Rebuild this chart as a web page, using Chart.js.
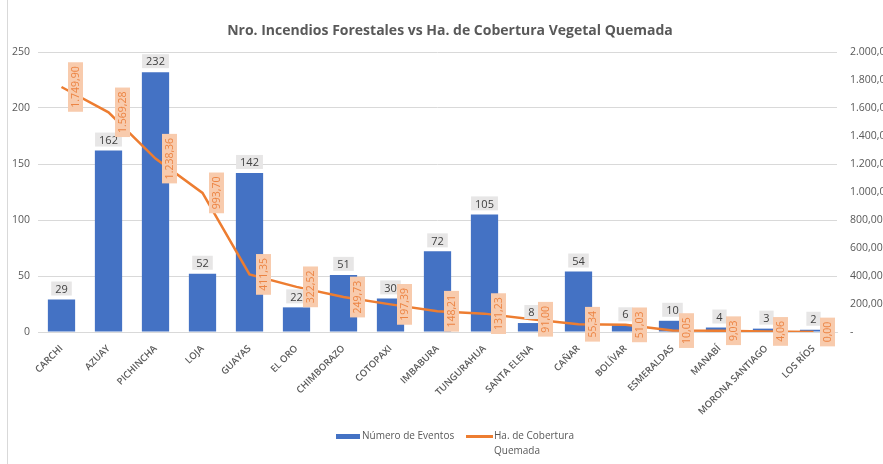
<!DOCTYPE html>
<html>
<head>
<meta charset="utf-8">
<script src="https://cdn.jsdelivr.net/npm/chart.js@4.4.1/dist/chart.umd.min.js"></script>
<style>
  html, body { margin: 0; padding: 0; background: #fff; overflow: hidden; }
  #wrap { position: relative; width: 883px; height: 464px; font-family: "Open Sans", "Noto Sans", sans-serif; }
  #edge { position: absolute; left: 7px; top: 0; width: 1px; height: 464px; background: #d9d9d9; }
  #title { position: absolute; left: 0; top: 20px; width: 900px; text-align: center;
           font-size: 14px; font-weight: bold; color: #595959; }
  #legend { position: absolute; top: 428px; left: 336px; font-size: 10px; color: #595959; }
  .item { position: absolute; white-space: nowrap; line-height: 15px; }
  .swatch { position: absolute; }
</style>
</head>
<body>
<div id="wrap">
  <div id="edge"></div>
  <div id="title">Nro. Incendios Forestales vs Ha. de Cobertura Vegetal Quemada</div>
  <canvas id="chart" width="883" height="464"></canvas>
  <div id="legend"></div>
</div>
<script>
// provincias
var provincias = ['CARCHI', 'AZUAY', 'PICHINCHA', 'LOJA', 'GUAYAS', 'EL ORO', 'CHIMBORAZO', 'COTOPAXI',
    'IMBABURA', 'TUNGURAHUA', 'SANTA ELENA', 'CAÑAR', 'BOLÍVAR', 'ESMERALDAS', 'MANABÍ',
    'MORONA SANTIAGO', 'LOS RÍOS'];
// número de eventos (eje izquierdo)
var eventos = [29, 162, 232, 52, 142, 22, 51, 30, 72, 105, 8, 54, 6, 10, 4, 3, 2];
// hectáreas quemadas (eje derecho)
var hectareas = [1749.90, 1569.28, 1238.36, 993.70, 411.35, 322.52, 249.73, 197.39, 148.21,
    131.23, 91.00, 55.34, 51.03, 10.05, 9.03, 4.06, 0.00];
var nombreEventos = 'Número de Eventos';
var nombreHectareas = ['Ha. de Cobertura', 'Quemada'];

var AZUL = '#4472c4';
var NARANJA = '#ed7d31';
var FUENTE = '"Open Sans", "Noto Sans", sans-serif';

// formato 1.749,90
function formatoEs(v) {
    var partes = v.toFixed(2).split('.');
    partes[0] = partes[0].replace(/\B(?=(\d{3})+(?!\d))/g, '.');
    return partes[0] + ',' + partes[1];
}

// etiquetas de datos (barras arriba, línea girada a la derecha)
var etiquetasPlugin = {
    id: 'etiquetas',
    afterDatasetsDraw: function (chart) {
        var ctx = chart.ctx;
        ctx.save();
        ctx.textAlign = 'center';
        ctx.textBaseline = 'middle';

        ctx.font = '11px ' + FUENTE;
        chart.getDatasetMeta(0).data.forEach(function (bar, i) {
            var txt = String(eventos[i]);
            var w = ctx.measureText(txt).width + 8;
            var cy = bar.y - 11;
            ctx.fillStyle = '#e7e6e6';
            ctx.fillRect(bar.x - w / 2, cy - 7, w, 14);
            ctx.fillStyle = '#404040';
            ctx.fillText(txt, bar.x, cy + 1);
        });

        ctx.font = '10.5px ' + FUENTE;
        chart.getDatasetMeta(1).data.forEach(function (pt, i) {
            var txt = formatoEs(hectareas[i]);
            var w = ctx.measureText(txt).width + 8;
            ctx.save();
            ctx.translate(pt.x + 14, pt.y);
            ctx.rotate(-Math.PI / 2);
            ctx.fillStyle = '#f8cbad';
            ctx.fillRect(-w / 2, -7.5, w, 15);
            ctx.fillStyle = '#ec8443';
            ctx.fillText(txt, 0, 1);
            ctx.restore();
        });
        ctx.restore();
    }
};

var ctx = document.getElementById('chart').getContext('2d');
window.miGrafico = new Chart(ctx, {
    type: 'bar',
    data: {
        labels: provincias,
        datasets: [{
            label: nombreEventos,
            data: eventos,
            backgroundColor: AZUL,
            yAxisID: 'y',
            categoryPercentage: 1,
            barPercentage: 0.58,
            order: 2
        }, {
            type: 'line',
            label: nombreHectareas.join(' '),
            data: hectareas,
            borderColor: NARANJA,
            backgroundColor: NARANJA,
            borderWidth: 2.5,
            pointRadius: 0,
            tension: 0,
            yAxisID: 'y1',
            order: 1
        }]
    },
    options: {
        responsive: false,
        animation: false,
        layout: { padding: { top: 52, bottom: 32, left: 0, right: 0 } },
        plugins: {
            legend: { display: false },
            title: { display: false },
            tooltip: { enabled: false }
        },
        scales: {
            x: {
                grid: { display: false },
                border: { color: '#d9d9d9' },
                ticks: {
                    color: '#595959',
                    font: { family: FUENTE, size: 9.5, weight: '600' },
                    minRotation: 45,
                    maxRotation: 45,
                    autoSkip: false,
                    padding: 3
                },
                afterFit: function (s) { s.height = 100; }
            },
            y: {
                position: 'left',
                min: 0,
                max: 250,
                ticks: {
                    stepSize: 50,
                    color: '#595959',
                    font: { family: FUENTE, size: 10.5 },
                    padding: 8
                },
                grid: { color: '#d9d9d9', drawTicks: false },
                border: { display: false },
                afterFit: function (s) { s.width = 38; }
            },
            y1: {
                position: 'right',
                min: 0,
                max: 2000,
                ticks: {
                    stepSize: 200,
                    color: '#595959',
                    font: { family: FUENTE, size: 10.5 },
                    padding: 13,
                    callback: function (v) { return v === 0 ? '-' : formatoEs(v); }
                },
                grid: { drawOnChartArea: false, drawTicks: false },
                border: { display: false },
                afterFit: function (s) { s.width = 46; }
            }
        }
    },
    plugins: [etiquetasPlugin]
});

// leyenda HTML (el texto de la línea va en dos renglones)
var leyenda = document.getElementById('legend');
leyenda.innerHTML =
    '<div class="swatch" style="left:0;top:6px;width:24px;height:5px;background:' + AZUL + '"></div>' +
    '<div class="item" style="left:26px;top:0">' + nombreEventos + '</div>' +
    '<div class="swatch" style="left:130px;top:7px;width:27px;height:2.5px;background:' + NARANJA + '"></div>' +
    '<div class="item" style="left:158px;top:0">' + nombreHectareas[0] + '<br>' + nombreHectareas[1] + '</div>';
</script>
</body>
</html>
